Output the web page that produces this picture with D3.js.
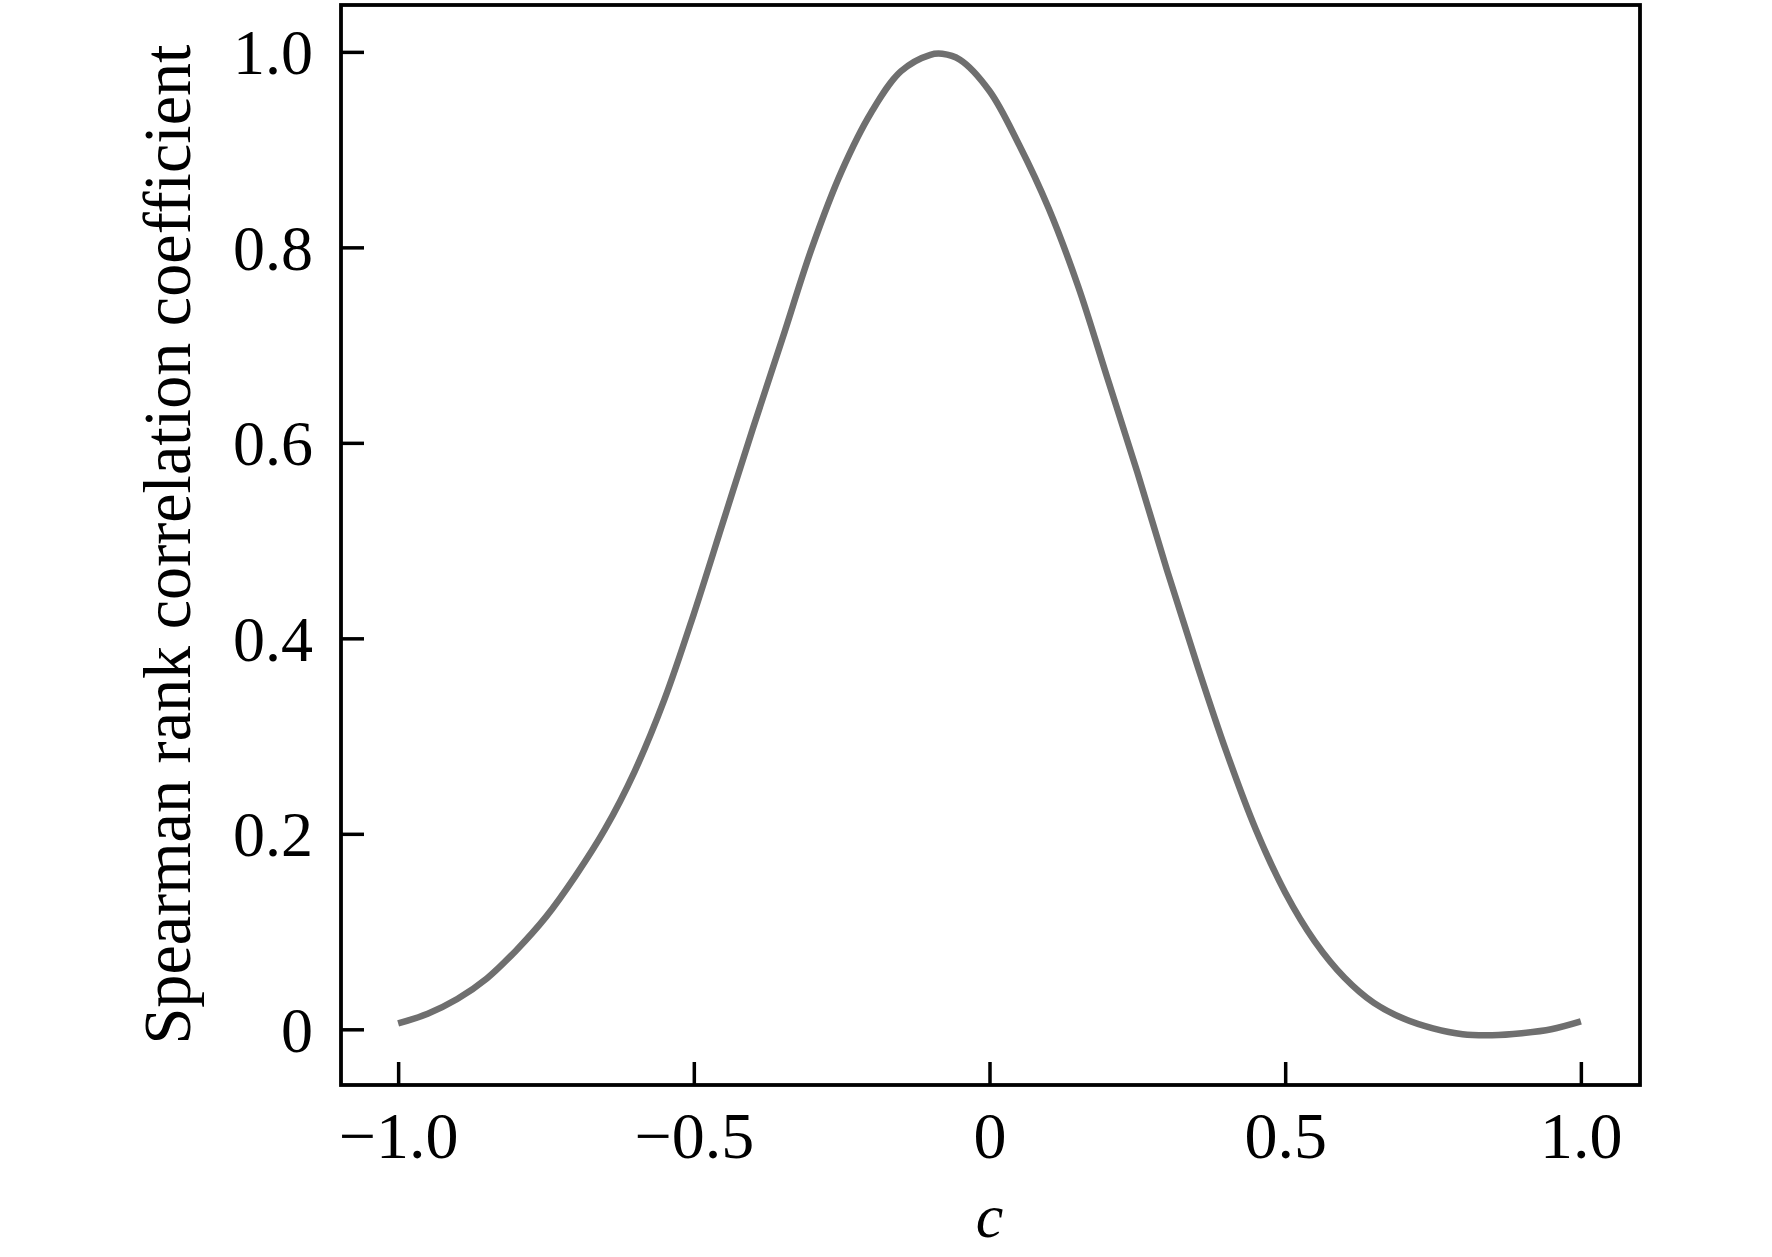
<!DOCTYPE html>
<html>
<head>
<meta charset="utf-8">
<script src="https://cdn.jsdelivr.net/npm/d3@7"></script>
<style>
  html, body { margin: 0; padding: 0; background: #fff; }
  svg { display: block; }
</style>
</head>
<body>
<script>
// ---- data ----
const cValues = [-1.00,-0.95,-0.90,-0.85,-0.80,-0.75,-0.70,-0.65,-0.60,-0.55,-0.50,-0.45,-0.40,-0.35,-0.30,-0.25,-0.20,-0.15,-0.10,-0.08,-0.05,0.00,0.05,0.10,0.15,0.20,0.25,0.30,0.35,0.40,0.45,0.50,0.55,0.60,0.65,0.70,0.75,0.80,0.85,0.90,0.95,1.00];
const spearman = [0.006,0.016,0.031,0.052,0.081,0.115,0.157,0.205,0.264,0.337,0.425,0.520,0.615,0.707,0.800,0.878,0.938,0.980,0.997,0.998,0.992,0.960,0.905,0.840,0.760,0.665,0.570,0.470,0.375,0.285,0.205,0.140,0.090,0.053,0.027,0.011,0.001,-0.005,-0.006,-0.004,0.000,0.008];
const xTickValues = [-1, -0.5, 0, 0.5, 1];
const xTickLabels = ["\u22121.0", "\u22120.5", "0", "0.5", "1.0"];
const yTickValues = [0, 0.2, 0.4, 0.6, 0.8, 1.0];
const yTickLabels = ["0", "0.2", "0.4", "0.6", "0.8", "1.0"];
const xLabel = "c";
const yLabel = "Spearman rank correlation coefficient";

const W = 1772, H = 1257;
const svg = d3.select("body").append("svg").attr("width", W).attr("height", H);

const x = d3.scaleLinear().domain([-1.1, 1.1]).range([339, 1640]);
const y = d3.scaleLinear().domain([-0.058, 1.05]).range([1086, 3]);

const font = "'Liberation Serif', 'Times New Roman', Times, serif";

const [x0, x1] = x.range();
const [y0, y1] = y.range();

// x axis (bottom, ticks inward)
const xAxis = d3.axisBottom(x).tickValues(xTickValues)
  .tickFormat((d, i) => xTickLabels[i]).tickSizeInner(-23).tickSizeOuter(0);
const gx = svg.append("g").attr("transform", `translate(0,${y0 - 1})`).call(xAxis);
gx.select(".domain").remove();
gx.selectAll(".tick line").attr("stroke", "#000").attr("stroke-width", 3.5);
gx.selectAll(".tick text").attr("y", 73).attr("dy", 0)
  .attr("font-family", font).attr("font-size", 66).attr("fill", "#000");

// y axis (left, ticks inward)
const yAxis = d3.axisLeft(y).tickValues(yTickValues)
  .tickFormat((d, i) => yTickLabels[i]).tickSizeInner(-23).tickSizeOuter(0);
const gy = svg.append("g").attr("transform", `translate(${x0 + 2},0)`).call(yAxis);
gy.select(".domain").remove();
gy.selectAll(".tick line").attr("stroke", "#000").attr("stroke-width", 3.5);
gy.selectAll(".tick text").attr("x", -28).attr("dy", 22)
  .attr("font-family", font).attr("font-size", 64).attr("fill", "#000");

// frame rectangle
svg.append("rect")
  .attr("x", x0 + 2).attr("y", y1 + 2)
  .attr("width", x1 - x0 - 2).attr("height", y0 - y1 - 3)
  .attr("fill", "none").attr("stroke", "#000").attr("stroke-width", 3.8);

// curve
const pts = cValues.map((c, i) => [c, spearman[i]]);
const line = d3.line().x(d => x(d[0])).y(d => y(d[1])).curve(d3.curveCatmullRom.alpha(0.5));
svg.append("path").datum(pts)
  .attr("d", line)
  .attr("fill", "none").attr("stroke", "#6f6f6f").attr("stroke-width", 6.5)
  .attr("stroke-linejoin", "round");

// axis labels
svg.append("text")
  .attr("x", x(0)).attr("y", 1237)
  .attr("text-anchor", "middle")
  .attr("font-family", font).attr("font-style", "italic").attr("font-size", 62)
  .text(xLabel);

svg.append("text")
  .attr("transform", `translate(190,${(y0 + y1) / 2}) rotate(-90)`)
  .attr("text-anchor", "middle")
  .attr("font-family", font).attr("font-size", 68)
  .attr("textLength", 1000).attr("lengthAdjust", "spacingAndGlyphs")
  .text(yLabel);
</script>
</body>
</html>
